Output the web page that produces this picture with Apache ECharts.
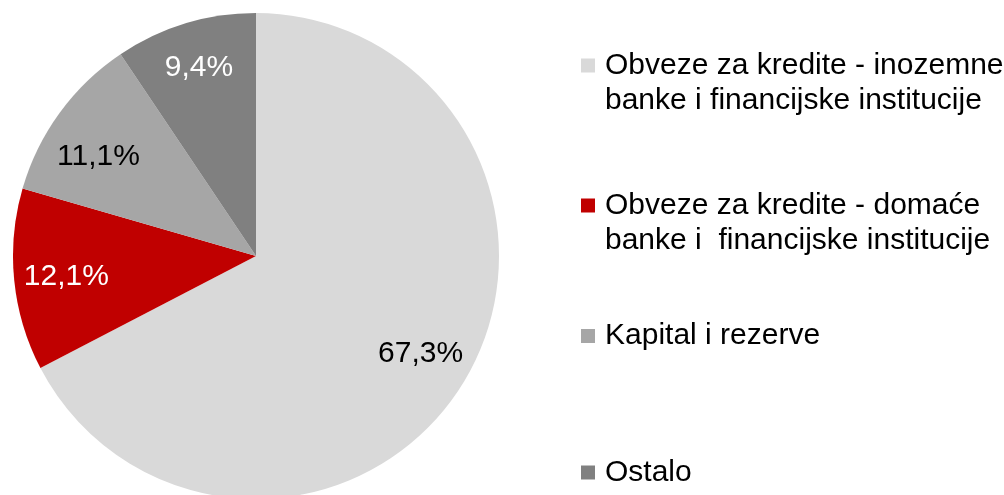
<!DOCTYPE html>
<html>
<head>
<meta charset="utf-8">
<script src="https://cdn.jsdelivr.net/npm/echarts@6/dist/echarts.min.js"></script>
<style>
  html, body { margin: 0; padding: 0; background: #fff; }
  #chart { width: 1004px; height: 495px; }
</style>
</head>
<body>
<div id="chart"></div>
<script>
// Struktura izvora financiranja (udjeli u %)
const categories = [
  'Obveze za kredite - inozemne\nbanke i financijske institucije',
  'Obveze za kredite - domaće\nbanke i  financijske institucije',
  'Kapital i rezerve',
  'Ostalo'
];
const shares = [67.3, 12.1, 11.1, 9.4];
const colors = ['#d9d9d9', '#c00000', '#a6a6a6', '#808080'];
const labelColors = ['#000000', '#ffffff', '#000000', '#ffffff'];
const labelNudge = [[0, -2], [2, 2], [-2, 14], [-1, -4]];

const FONT = '"Liberation Sans", Arial, sans-serif';
const R = 243;
const CENTER = [256, 256];

const pieData = categories.map((name, i) => ({
  name,
  value: shares[i],
  itemStyle: { color: colors[i] }
}));

// Transparent ring that carries the percentage labels further out from the centre
const labelData = categories.map((name, i) => ({
  name,
  value: shares[i],
  itemStyle: { color: 'rgba(0,0,0,0)' },
  label: { color: labelColors[i], offset: labelNudge[i] }
}));

const fmt = p => p.value.toFixed(1).replace('.', ',') + '%';

// Two-line entries get an empty first line so the marker sits beside the first text line
const legendTops = [13, 153, 318.5, 455];
const legends = categories.map((name, i) => {
  const twoLines = name.indexOf('\n') >= 0;
  return {
    data: [name],
    orient: 'vertical',
    left: 581,
    top: legendTops[i],
    padding: 0,
    icon: 'rect',
    itemWidth: 14,
    itemHeight: 14,
    itemGap: 0,
    selectedMode: false,
    formatter: n => (twoLines ? ' \n' : '') + n,
    textStyle: {
      fontFamily: FONT,
      fontSize: 30,
      lineHeight: 35,
      color: '#000',
      padding: [0, 0, 0, 5]
    }
  };
});

const chart = echarts.init(document.getElementById('chart'), null, { renderer: 'canvas' });
chart.setOption({
  animation: false,
  backgroundColor: '#ffffff',
  legend: legends,
  series: [
    {
      type: 'pie',
      center: CENTER,
      radius: [0, R],
      startAngle: 90,
      clockwise: true,
      silent: true,
      label: { show: false },
      labelLine: { show: false },
      itemStyle: { borderWidth: 0 },
      data: pieData
    },
    {
      type: 'pie',
      center: CENTER,
      radius: [R * 0.56, R],
      startAngle: 90,
      clockwise: true,
      silent: true,
      legendHoverLink: false,
      labelLine: { show: false },
      label: {
        show: true,
        position: 'inside',
        formatter: fmt,
        fontFamily: FONT,
        fontSize: 30
      },
      itemStyle: { borderWidth: 0 },
      data: labelData
    }
  ]
});
</script>
</body>
</html>
